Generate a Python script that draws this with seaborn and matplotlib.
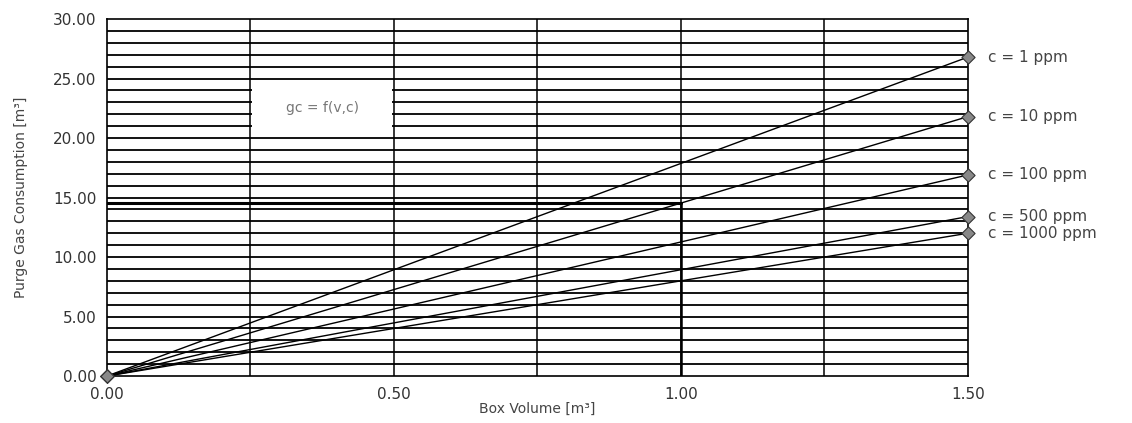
import numpy as np
import pandas as pd
import seaborn as sns
import matplotlib.pyplot as plt
from matplotlib.patches import Rectangle

# box volume [m3] and purge gas consumption [m3] per concentration
volume = [0.0, 1.5]
labels = ["c = 1 ppm", "c = 10 ppm", "c = 100 ppm", "c = 500 ppm", "c = 1000 ppm"]
gc_end = [26.8, 21.8, 16.9, 13.4, 12.0]

# reading line drawn in the original
read_v = 1.0
read_gc = 14.5

rows = []
for lab, g in zip(labels, gc_end):
    rows.append({"v": volume[0], "gc": 0.0, "c": lab})
    rows.append({"v": volume[1], "gc": g, "c": lab})
df = pd.DataFrame(rows)

sns.set_style("white")
plt.rcParams["font.family"] = ["DejaVu Sans"]

fig = plt.figure(figsize=(11.32, 4.23), dpi=100)
ax = fig.add_axes([0.0945, 0.111, 0.7605, 0.844])

# grid
for yy in range(1, 30):
    ax.axhline(yy, color="black", lw=1.3, zorder=1)
for xx in [0.25, 0.5, 0.75, 1.0, 1.25]:
    ax.axvline(xx, color="black", lw=1.1, zorder=1)

# reading line
ax.plot([0, read_v], [read_gc, read_gc], color="black", lw=2.2, zorder=2)
ax.plot([read_v, read_v], [0, read_gc], color="black", lw=1.8, zorder=2)

# label box
ax.add_patch(Rectangle((0.253, 20.1), 0.244, 4.8, facecolor="white", edgecolor="none", zorder=2))
ax.text(0.375, 22.5, "gc = f(v,c)", ha="center", va="center", fontsize=10, color="#777777", zorder=3)

sns.lineplot(data=df, x="v", y="gc", units="c", estimator=None, color="black", lw=1.0, ax=ax, zorder=4)
sns.scatterplot(data=df, x="v", y="gc", marker="D", s=45, color="#888888", edgecolor="#333333",
                linewidth=0.8, ax=ax, zorder=5, clip_on=False)

for lab, g in zip(labels, gc_end):
    ax.text(1.535, g, lab, ha="left", va="center", fontsize=11, color="#444444")

ax.set_xlim(0, 1.5)
ax.set_ylim(0, 30)
ax.set_xticks([0, 0.5, 1.0, 1.5])
ax.set_xticklabels(["0.00", "0.50", "1.00", "1.50"])
ax.set_yticks([0, 5, 10, 15, 20, 25, 30])
ax.set_yticklabels(["%.2f" % t for t in [0, 5, 10, 15, 20, 25, 30]])
ax.tick_params(axis="both", labelsize=11, colors="#333333", length=4, width=1, direction="out")
ax.tick_params(axis="x", length=0, pad=8)
ax.set_xlabel("Box Volume [m³]", fontsize=10, color="#444444", labelpad=0)
ax.set_ylabel("Purge Gas Consumption [m³]", fontsize=10, color="#444444", labelpad=18)
for s in ax.spines.values():
    s.set_color("black")
    s.set_linewidth(1.2)

fig.savefig("out.png", dpi=100)
